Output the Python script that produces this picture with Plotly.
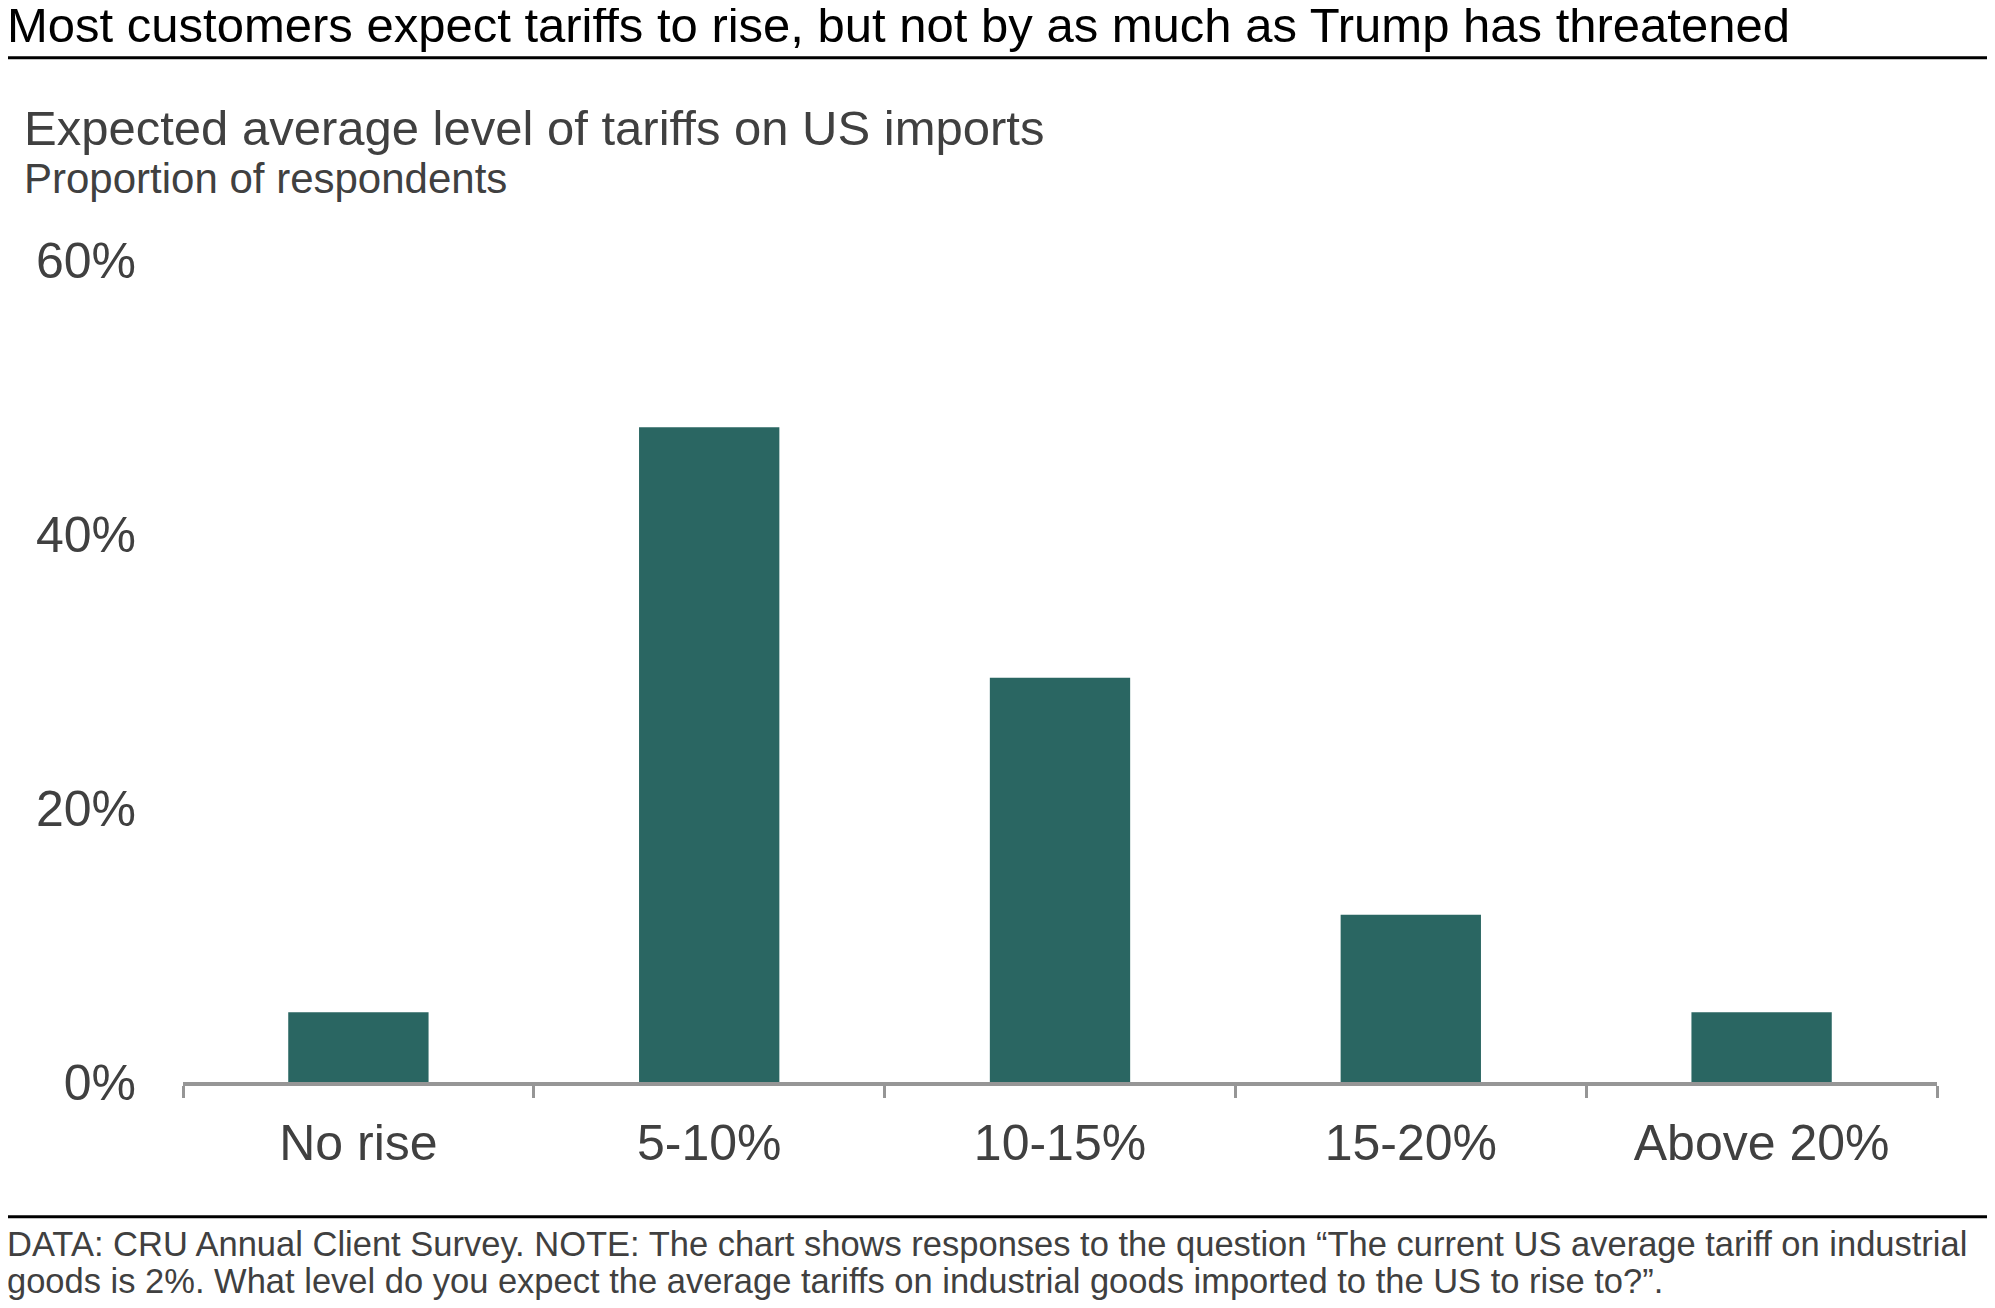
import plotly.graph_objects as go

categories = ["No rise", "5-10%", "10-15%", "15-20%", "Above 20%"]
values = [5.1, 47.8, 29.5, 12.2, 5.1]
y_tickvals = [0, 20, 40, 60]
y_ticktext = ["0%", "20%", "40%", "60%"]

title_text = "Most customers expect tariffs to rise, but not by as much as Trump has threatened"
subtitle_text = "Expected average level of tariffs on US imports"
unit_text = "Proportion of respondents"
footer_1 = "DATA: CRU Annual Client Survey. NOTE: The chart shows responses to the question \u201cThe current US average tariff on industrial"
footer_2 = "goods is 2%. What level do you expect the average tariffs on industrial goods imported to the US to rise to?\u201d."

# The page body has an 8px margin, so the figure is sized to fit inside it.
OFF = 8
PAGE_W, PAGE_H = 1995, 1308
W, H = PAGE_W - 2 * OFF, PAGE_H - 2 * OFF
# plot area in page pixels: x 183..1937, y 259.5..1082.5
L = 183 - OFF
R = (PAGE_W - 1937) - OFF
T = 259.5 - OFF
B = (PAGE_H - 1082.5) - OFF
FONT = "Liberation Sans, Arial, sans-serif"
GREY_TXT = "#404040"
BAR = "#2A6662"


def px(x):
    return (x - OFF - L) / (W - L - R)


def py(y):
    return (H - B - (y - OFF)) / (H - T - B)


fig = go.Figure(
    go.Bar(x=categories, y=values, marker=dict(color=BAR, line=dict(width=0)), width=0.4)
)

fig.update_layout(
    width=W, height=H,
    margin=dict(l=L, r=R, t=T, b=B, pad=0),
    paper_bgcolor="white", plot_bgcolor="white",
    showlegend=False,
    font=dict(family=FONT, color=GREY_TXT),
)

fig.update_xaxes(
    range=[-0.5, 4.5],
    showline=True, linecolor="#969696", linewidth=4,
    ticks="outside", tickson="boundaries", ticklen=12, tickwidth=3, tickcolor="#969696",
    tickfont=dict(size=50, color=GREY_TXT, family=FONT),
    ticklabelstandoff=14,
    showgrid=False, zeroline=False,
)
fig.update_yaxes(
    range=[0, 60],
    tickvals=y_tickvals, ticktext=y_ticktext,
    tickfont=dict(size=50, color=GREY_TXT, family=FONT),
    ticks="", showline=False, showgrid=False, zeroline=False,
    ticklabelstandoff=46,
)

annots = [
    dict(text=title_text, x=px(5), y=py(24.5), size=49, color="#000000"),
    dict(text=subtitle_text, x=px(22), y=py(127), size=49, color=GREY_TXT),
    dict(text=unit_text, x=px(22), y=py(178), size=42, color=GREY_TXT),
    dict(text=footer_1, x=px(5), y=py(1245), size=34.5, color=GREY_TXT),
    dict(text=footer_2, x=px(5), y=py(1282), size=34.5, color=GREY_TXT),
]
for a in annots:
    fig.add_annotation(
        text=a["text"], x=a["x"], y=a["y"], xref="paper", yref="paper",
        xanchor="left", yanchor="middle", showarrow=False,
        font=dict(size=a["size"], color=a["color"], family=FONT),
    )

for yline in (57, 1217.5):
    fig.add_shape(
        type="line", xref="paper", yref="paper",
        x0=px(OFF), x1=px(PAGE_W - OFF), y0=py(yline), y1=py(yline),
        line=dict(color="#000000", width=3),
    )

fig.write_html("out.html")
